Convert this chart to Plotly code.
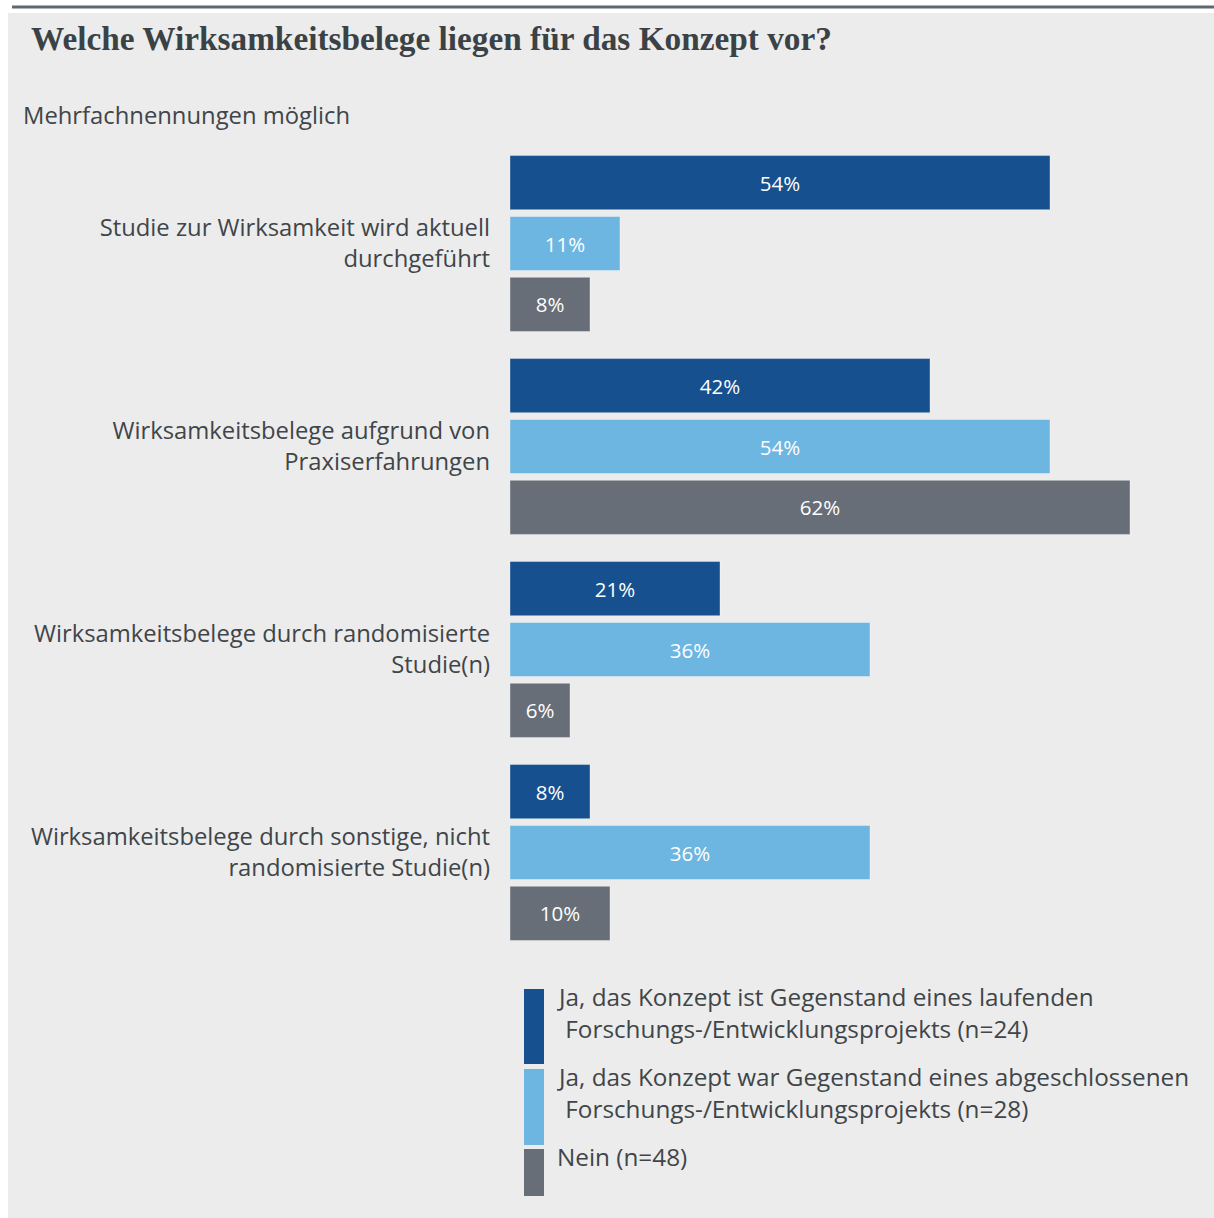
import plotly.graph_objects as go

# Survey answers (multiple answers possible), percent of respondents per group
categories = [
    "Studie zur Wirksamkeit wird aktuell<br>durchgeführt",
    "Wirksamkeitsbelege aufgrund von<br>Praxiserfahrungen",
    "Wirksamkeitsbelege durch randomisierte<br>Studie(n)",
    "Wirksamkeitsbelege durch sonstige, nicht<br>randomisierte Studie(n)",
]
series_names = [
    "Ja, das Konzept ist Gegenstand eines laufenden<br>\u00a0Forschungs-/Entwicklungsprojekts (n=24)",
    "Ja, das Konzept war Gegenstand eines abgeschlossenen<br>\u00a0Forschungs-/Entwicklungsprojekts (n=28)",
    "Nein (n=48)",
]
laufend = [54, 42, 21, 8]
abgeschlossen = [11, 54, 36, 36]
nein = [8, 62, 6, 10]
series_values = [laufend, abgeschlossen, nein]
colors = ["#16508e", "#6eb6e2", "#676e77"]

W, H = 1214, 1218
L, R, T, B = 510, 4, 142, 264
TEXT = "#404549"
FONT = "Open Sans"
FS = 23.8

fig = go.Figure()
for name, vals, col in zip(series_names, series_values, colors):
    fig.add_trace(go.Bar(
        y=categories, x=vals, orientation="h", name=name,
        marker=dict(color=col, line=dict(color="rgba(255,255,255,0.35)", width=1)),
        text=[f"{v}%" for v in vals], textposition="inside",
        insidetextanchor="middle", constraintext="none",
        textfont=dict(color="white", size=20.5, family=FONT),
        showlegend=False, hoverinfo="skip",
    ))

pw, ph = W - L - R, H - T - B


def px(x):
    return (x - L) / pw


def py(y):
    return (H - B - y) / ph


shapes = [
    # panel background and top rule
    dict(type="rect", xref="paper", yref="paper", x0=px(8), x1=px(W), y0=py(13), y1=py(H),
         fillcolor="#ececec", line=dict(width=0), layer="below"),
    dict(type="line", xref="paper", yref="paper", x0=px(12), x1=px(W), y0=py(7), y1=py(7),
         line=dict(color="#60676e", width=3)),
]
# legend swatches
swatch_rows = [(989, 1064), (1069, 1145), (1149, 1196)]
for (y0, y1), col in zip(swatch_rows, colors):
    shapes.append(dict(type="rect", xref="paper", yref="paper", x0=px(524), x1=px(544),
                       y0=py(y1), y1=py(y0), fillcolor=col, line=dict(width=0)))

annotations = [
    dict(text="<b>Welche Wirksamkeitsbelege liegen für das Konzept vor?</b>", xref="paper", yref="paper",
         x=px(29), y=py(39), xanchor="left", yanchor="middle", showarrow=False,
         font=dict(family="Liberation Serif", size=33.3, color="#3b4246")),
    dict(text="Mehrfachnennungen möglich", xref="paper", yref="paper",
         x=px(21), y=py(115), xanchor="left", yanchor="middle", showarrow=False,
         font=dict(family=FONT, size=FS, color=TEXT)),
]
legend_tops = [978, 1058, 1138]
for name, top in zip(series_names, legend_tops):
    annotations.append(dict(text=name, xref="paper", yref="paper", x=px(555), y=py(top),
                            xanchor="left", yanchor="top", align="left", showarrow=False,
                            font=dict(family=FONT, size=24.3, color=TEXT)))

fig.update_layout(
    width=W, height=H, margin=dict(l=L, r=R, t=T, b=B),
    paper_bgcolor="white", plot_bgcolor="rgba(0,0,0,0)",
    barmode="group", bargap=0.10, bargroupgap=0.112,
    shapes=shapes, annotations=annotations,
    xaxis=dict(range=[0, 70], visible=False, fixedrange=True),
    yaxis=dict(autorange="reversed", showgrid=False, zeroline=False, showline=False,
               ticks="", ticklabelstandoff=19,
               tickfont=dict(family=FONT, size=FS, color=TEXT), fixedrange=True),
    font=dict(family=FONT, color=TEXT),
)

fig.write_html("out.html", config={"displayModeBar": False})
